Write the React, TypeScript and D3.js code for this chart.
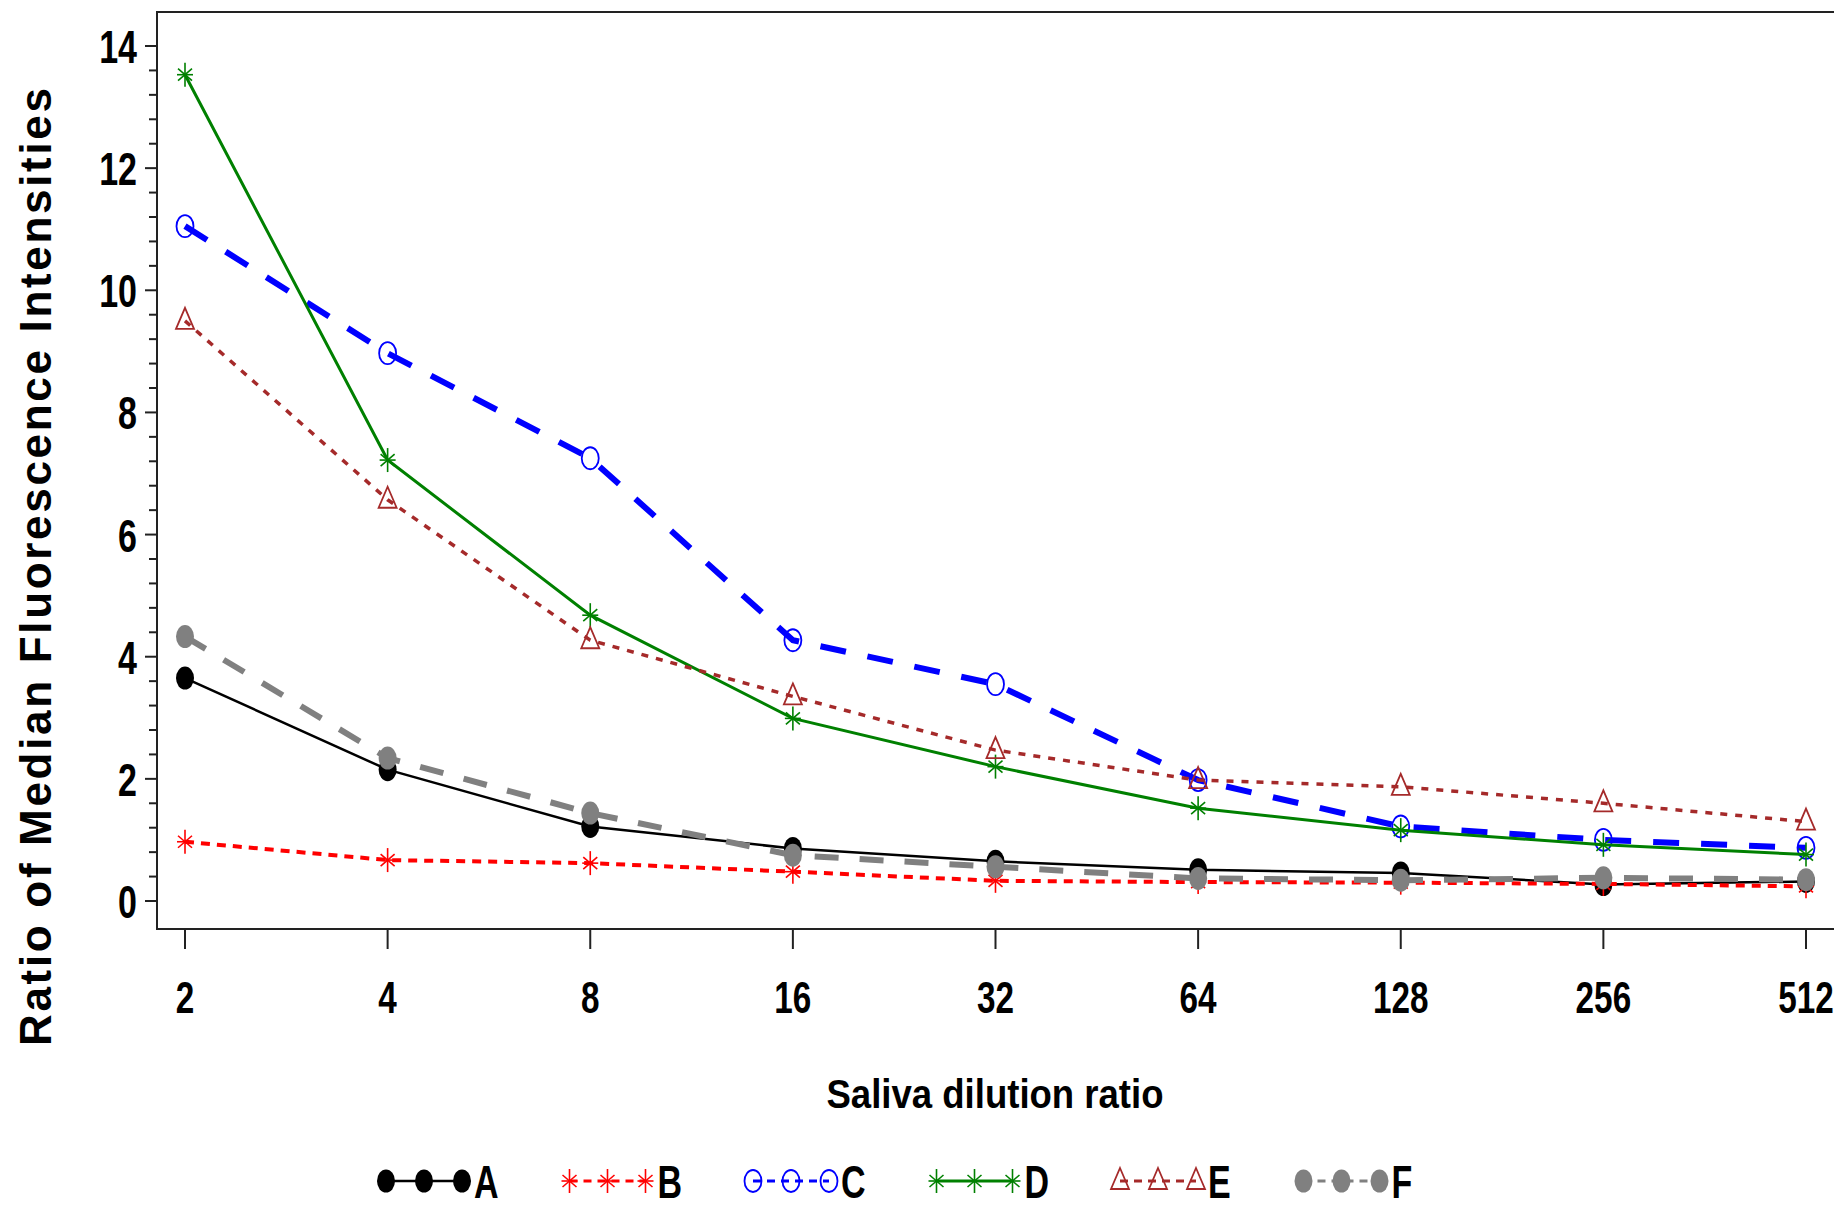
import React from 'react';
import * as d3 from 'd3';

// dilution ratios on the x axis
const dilutions = [2, 4, 8, 16, 32, 64, 128, 256, 512];

// ratio of median fluorescence intensities
const seriesA = [3.65, 2.15, 1.22, 0.86, 0.65, 0.51, 0.46, 0.27, 0.32];
const seriesB = [0.97, 0.67, 0.62, 0.48, 0.33, 0.31, 0.3, 0.28, 0.24];
const seriesC = [11.05, 8.97, 7.25, 4.27, 3.55, 1.98, 1.22, 1.0, 0.87];
const seriesD = [13.53, 7.22, 4.68, 2.99, 2.2, 1.52, 1.16, 0.92, 0.76];
const seriesE = [9.5, 6.57, 4.27, 3.35, 2.47, 1.98, 1.87, 1.6, 1.3];
const seriesF = [4.33, 2.34, 1.44, 0.75, 0.56, 0.37, 0.34, 0.38, 0.35];

const seriesNames = ['A', 'B', 'C', 'D', 'E', 'F'];
const yTicks = [0, 2, 4, 6, 8, 10, 12, 14];

const W = 1834;
const H = 1209;
const frame = { left: 157, top: 12, bottom: 929 };
const FONT = '"Liberation Sans", Arial, sans-serif';

type Style = { color: string; width: number; dash: string | null; marker: string };

const styles: Style[] = [
  { color: '#000000', width: 2.5, dash: null, marker: 'dot' },
  { color: '#ff0000', width: 4, dash: '9,7', marker: 'star' },
  { color: '#0000ff', width: 6, dash: '26,22', marker: 'circle' },
  { color: '#008000', width: 3, dash: null, marker: 'star' },
  { color: '#a52a2a', width: 3.5, dash: '7,8', marker: 'triangle' },
  { color: '#808080', width: 6, dash: '24,21', marker: 'dot' },
];

const x = d3.scaleLog().base(2).domain([2, 512]).range([185, 1806]);
const y = d3.scaleLinear().domain([0, 14]).range([901, 46]);

const Marker = ({ kind, color, cx, cy }: { kind: string; color: string; cx: number; cy: number }) => {
  if (kind === 'dot') {
    return <ellipse cx={cx} cy={cy} rx={9} ry={11.5} fill={color} />;
  }
  if (kind === 'circle') {
    return <ellipse cx={cx} cy={cy} rx={8.5} ry={11} fill="none" stroke={color} strokeWidth={1.8} />;
  }
  if (kind === 'triangle') {
    return (
      <path
        d={`M${cx},${cy - 13} L${cx + 9},${cy + 8} L${cx - 9},${cy + 8} Z`}
        fill="none"
        stroke={color}
        strokeWidth={1.8}
      />
    );
  }
  // star
  return (
    <g stroke={color} strokeWidth={1.6}>
      <line x1={cx} y1={cy - 12} x2={cx} y2={cy + 12} />
      <line x1={cx - 7} y1={cy - 6} x2={cx + 7} y2={cy + 6} />
      <line x1={cx - 7} y1={cy + 6} x2={cx + 7} y2={cy - 6} />
      <line x1={cx - 8} y1={cy} x2={cx + 8} y2={cy} />
    </g>
  );
};

export default function App() {
  const allSeries = [seriesA, seriesB, seriesC, seriesD, seriesE, seriesF];

  const line = d3
    .line<number>()
    .x((_, i) => x(dilutions[i]))
    .y((d) => y(d));

  const minorTicks = d3.range(0, 14.0001, 0.4).filter((v) => Math.abs(v / 2 - Math.round(v / 2)) > 0.01);

  return (
    <svg
      width={W}
      height={H}
      style={{ position: 'absolute', left: 0, top: 0, background: '#fff' }}
      fontFamily={FONT}
      fontWeight="bold"
    >
      {/* frame (right edge sits past the picture edge) */}
      <rect
        x={frame.left}
        y={frame.top}
        width={W + 10 - frame.left}
        height={frame.bottom - frame.top}
        fill="none"
        stroke="#222"
        strokeWidth={2}
      />

      {/* y axis ticks */}
      {yTicks.map((t) => (
        <g key={'y' + t}>
          <line x1={frame.left - 12} x2={frame.left} y1={y(t)} y2={y(t)} stroke="#222" strokeWidth={2} />
          <text
            transform={`translate(${frame.left - 20},${y(t) + 17}) scale(0.74,1)`}
            textAnchor="end"
            fontSize={46}
          >
            {t}
          </text>
        </g>
      ))}
      {minorTicks.map((t, i) => (
        <line key={'m' + i} x1={frame.left - 8} x2={frame.left} y1={y(t)} y2={y(t)} stroke="#222" strokeWidth={2} />
      ))}

      {/* x axis ticks */}
      {dilutions.map((d) => (
        <g key={'x' + d}>
          <line x1={x(d)} x2={x(d)} y1={frame.bottom} y2={frame.bottom + 20} stroke="#222" strokeWidth={2} />
          <text transform={`translate(${x(d)},1013) scale(0.74,1)`} textAnchor="middle" fontSize={45}>
            {d}
          </text>
        </g>
      ))}

      {/* axis titles */}
      <text x={995} y={1108} textAnchor="middle" fontSize={41} textLength={337} lengthAdjust="spacingAndGlyphs">
        Saliva dilution ratio
      </text>
      <text
        transform="translate(51,567) rotate(-90)"
        textAnchor="middle"
        fontSize={44}
        textLength={958}
        lengthAdjust="spacing"
      >
        Ratio of Median Fluorescence Intensities
      </text>

      {/* series */}
      {allSeries.map((vals, s) => (
        <g key={'s' + s}>
          <path
            d={line(vals) || ''}
            fill="none"
            stroke={styles[s].color}
            strokeWidth={styles[s].width}
            strokeDasharray={styles[s].dash || undefined}
          />
          {vals.map((v, i) => (
            <Marker key={i} kind={styles[s].marker} color={styles[s].color} cx={x(dilutions[i])} cy={y(v)} />
          ))}
        </g>
      ))}

      {/* legend */}
      {seriesNames.map((name, s) => {
        const x0 = 386 + s * 183.5;
        const ly = 1181;
        return (
          <g key={'l' + name}>
            <line
              x1={x0}
              x2={x0 + 76}
              y1={ly}
              y2={ly}
              stroke={styles[s].color}
              strokeWidth={Math.min(styles[s].width, 3)}
              strokeDasharray={styles[s].dash ? '8,6' : undefined}
            />
            {[0, 38, 76].map((dx) => (
              <Marker key={dx} kind={styles[s].marker} color={styles[s].color} cx={x0 + dx} cy={ly} />
            ))}
            <text transform={`translate(${x0 + 88},1198) scale(0.74,1)`} fontSize={46}>
              {name}
            </text>
          </g>
        );
      })}
    </svg>
  );
}
